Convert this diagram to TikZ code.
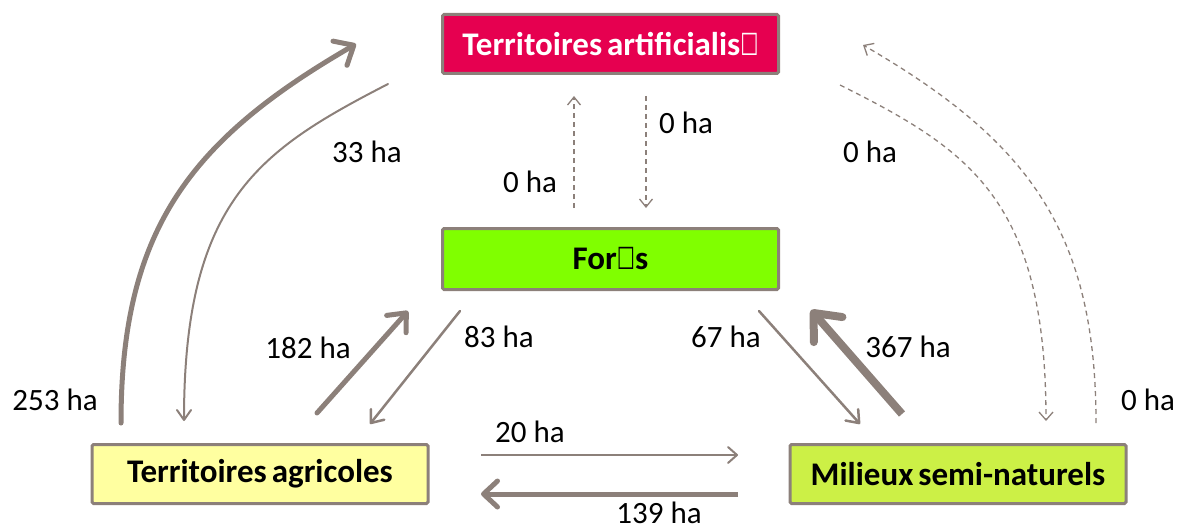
\documentclass[tikz,border=0pt]{standalone}
\usepackage{fontspec}
\usepackage{graphicx}
\setmainfont{Carlito}
\newfontfamily\djv{DejaVu Sans}
\usetikzlibrary{arrows.meta}
\definecolor{edgec}{RGB}{140,128,122}
\definecolor{artc}{RGB}{230,0,80}
\definecolor{forc}{RGB}{128,255,0}
\definecolor{agric}{RGB}{255,255,160}
\definecolor{milc}{RGB}{204,240,70}
\newcommand{\boxfont}{\fontsize{33}{38}\selectfont\bfseries}
\newcommand{\tightsp}{\spaceskip=5pt plus 1pt\relax}
\tikzset{
  boxn/.style={draw=edgec, line width=3pt, rounded corners=1.5pt, inner sep=0pt,
    minimum width=336pt, minimum height=59pt, font=\boxfont},
  lbl/.style={font=\fontsize{31}{36}\selectfont, inner sep=0pt, text=black},
  flow/.style={draw=edgec, line cap=round},
  dsh/.style={draw=edgec, line width=1.3pt, dash pattern=on 5pt off 4pt},
}
\newcommand{\missg}{\scalebox{0.7}[1.05]{\djv\bfseries\fontsize{29}{32}\selectfont ☐}}
\begin{document}
\begin{tikzpicture}[x=1pt,y=-1pt]
\useasboundingbox (0,0) rectangle (1180,532);

% boxes
\node[boxn, fill=artc, text=white] (art) at (610.5,44) {\tightsp Territoires artificialis\missg};
\node[boxn, fill=forc, minimum height=61pt] (for) at (610.5,259) {For\missg s};
\node[boxn, fill=agric] (agr) at (260,474) {\tightsp Territoires agricoles};
\node[boxn, fill=milc] (mil) at (958,474) {\tightsp Milieux semi-naturels};

% endpoints
\coordinate (a253s) at (121,423);  \coordinate (a253e) at (356,44);
\coordinate (a33s)  at (388,84);   \coordinate (a33e)  at (184,421);
\coordinate (fus)   at (574,208);  \coordinate (fue)   at (574,96);
\coordinate (fds)   at (646,96);   \coordinate (fde)   at (646,208);
\coordinate (r1s)   at (840,85);   \coordinate (r1e)   at (1046,421);
\coordinate (r2s)   at (1096,423); \coordinate (r2e)   at (863,45);
\coordinate (a182s) at (317,413);  \coordinate (a182e) at (408,311);
\coordinate (a83s)  at (460,311);  \coordinate (a83e)  at (370,424);
\coordinate (a67s)  at (759,311);  \coordinate (a67e)  at (860,424);
\coordinate (a367s) at (902,414);  \coordinate (a367e) at (811,310);
\coordinate (a20s)  at (481,455);  \coordinate (a20e)  at (738,455);
\coordinate (a139s) at (738,494);  \coordinate (a139e) at (481,494);

% curved arrows left
\draw[flow, line width=5pt, -{Straight Barb[length=16pt,width=28pt,round]}]
  (a253s) .. controls (121,230) and (190,140) .. (a253e);
\draw[flow, line width=2pt, -{Straight Barb[length=10pt,width=14pt,round]}]
  (a33s) .. controls (260,150) and (184,200) .. (a33e);

% dashed vertical
\draw[dsh, -{Straight Barb[length=8pt,width=13pt]}] (fus) -- (fue);
\draw[dsh, -{Straight Barb[length=8pt,width=13pt]}] (fds) -- (fde);

% dashed curves right
\draw[dsh, -{Straight Barb[length=8pt,width=14pt]}]
  (r1s) .. controls (970,150) and (1046,200) .. (r1e);
\draw[dsh, -{Straight Barb[length=8pt,width=14pt]}]
  (r2s) .. controls (1096,230) and (1027,140) .. (r2e);

% straight arrows
\draw[flow, line width=5pt, -{Straight Barb[length=15pt,width=26pt,round]}] (a182s) -- (a182e);
\draw[flow, line width=2.5pt, -{Straight Barb[length=11pt,width=17pt,round]}] (a83s) -- (a83e);
\draw[flow, line width=2.5pt, -{Straight Barb[length=11pt,width=17pt,round]}] (a67s) -- (a67e);
\draw[flow, line width=8pt, line cap=butt, -{Straight Barb[length=22pt,width=38pt,round]}] (a367s) -- (a367e);
\draw[flow, line width=2pt, line cap=butt, -{Straight Barb[length=9pt,width=16pt,round]}] (a20s) -- (a20e);
\draw[flow, line width=5pt, line cap=butt, -{Straight Barb[length=14pt,width=26pt,round]}] (a139s) -- (a139e);

% labels
\node[lbl] (l253) at (55,400) {253 ha};
\node[lbl] (l33) at (367,152) {33 ha};
\node[lbl] (l0a) at (530,182) {0 ha};
\node[lbl] (l0b) at (686,123) {0 ha};
\node[lbl] (l0c) at (870,152) {0 ha};
\node[lbl] (l0d) at (1148,400) {0 ha};
\node[lbl] (l182) at (308,348) {182 ha};
\node[lbl] (l83) at (499,337) {83 ha};
\node[lbl] (l67) at (726,337) {67 ha};
\node[lbl] (l367) at (908,347) {367 ha};
\node[lbl] (l20) at (530,432) {20 ha};
\node[lbl] (l139) at (659,513) {139 ha};
\end{tikzpicture}
\end{document}
